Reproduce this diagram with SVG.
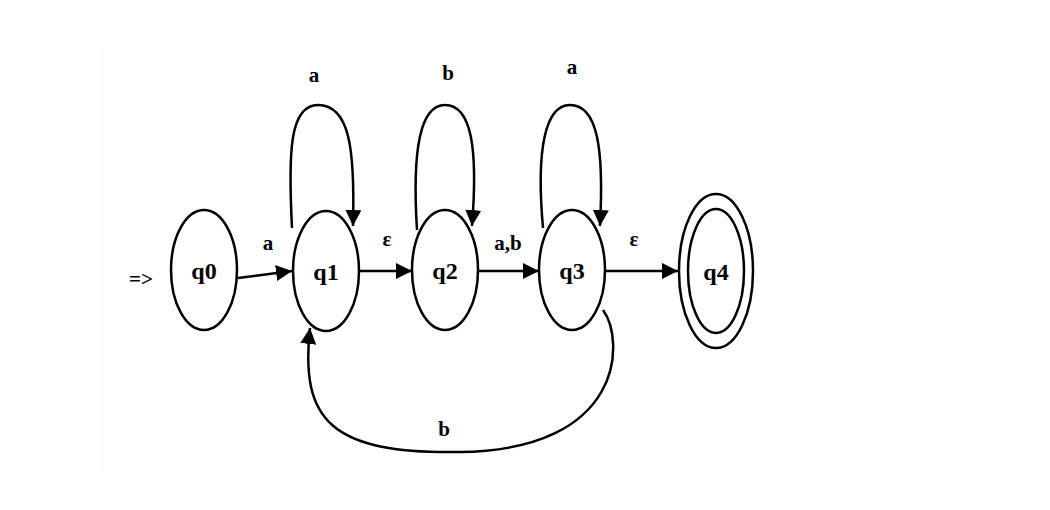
<svg xmlns="http://www.w3.org/2000/svg" width="1050" height="510" viewBox="0 0 1050 510">
<style>
.n{fill:#fff;stroke:#000;stroke-width:2.5}
.e{fill:none;stroke:#000;stroke-width:2.5}
.t{font-family:"Liberation Serif",serif;font-weight:bold;font-size:24px;fill:#000}
.l{font-family:"Liberation Serif",serif;font-weight:bold;font-size:21px;fill:#000}
</style>
<defs>
<marker id="a" viewBox="0 0 10 10" refX="10" refY="5" markerWidth="16" markerHeight="16" orient="auto" markerUnits="userSpaceOnUse"><path d="M0,0 L10,5 L0,10 z" fill="#000"/></marker></defs>
<rect x="100" y="45" width="665" height="428" fill="#fefefe"/>
<g id="edges">
<path class="e" d="M238,278 L292,271" marker-end="url(#a)"/>
<path class="e" d="M359,271 L412,271" marker-end="url(#a)"/>
<path class="e" d="M478,271 L539,271" marker-end="url(#a)"/>
<path class="e" d="M605,271 L678,271" marker-end="url(#a)"/>
<path class="e" d="M292,228 C288,150 290,105 318,105 C350,105 355,150 353,226" marker-end="url(#a)"/>
<path class="e" d="M417,230 C412,150 420,105 445,105 C472,105 478,150 472,226" marker-end="url(#a)"/>
<path class="e" d="M543,228 C536,150 545,105 570,105 C598,105 604,150 600,226" marker-end="url(#a)"/>
<path class="e" d="M603,310 C625,340 625,450 460,452 C330,454 300,420 310,328" marker-end="url(#a)"/>
</g>
<g id="q0"><ellipse class="n" cx="204" cy="270" rx="33" ry="60"/><text class="t" x="204" y="279" text-anchor="middle">q0</text></g>
<g id="q1"><ellipse class="n" cx="326" cy="271" rx="33" ry="60"/><text class="t" x="326" y="280" text-anchor="middle">q1</text></g>
<g id="q2"><ellipse class="n" cx="445" cy="270" rx="33" ry="60"/><text class="t" x="445" y="279" text-anchor="middle">q2</text></g>
<g id="q3"><ellipse class="n" cx="572" cy="270" rx="33" ry="60"/><text class="t" x="572" y="279" text-anchor="middle">q3</text></g>
<g id="q4"><ellipse class="n" cx="716" cy="271" rx="37" ry="77"/><ellipse class="n" cx="716" cy="271" rx="28" ry="62"/><text class="t" x="716" y="280" text-anchor="middle">q4</text></g>
<g id="labels">
<text class="l" x="141" y="286" text-anchor="middle">=&gt;</text>
<text class="l" x="268" y="250" text-anchor="middle">a</text>
<text class="l" x="387" y="246" text-anchor="middle" font-weight="normal">ε</text>
<text class="l" x="508" y="250" text-anchor="middle">a,b</text>
<text class="l" x="634" y="246" text-anchor="middle" font-weight="normal">ε</text>
<text class="l" x="314" y="82" text-anchor="middle">a</text>
<text class="l" x="448" y="80" text-anchor="middle">b</text>
<text class="l" x="572" y="74" text-anchor="middle">a</text>
<text class="l" x="444" y="436" text-anchor="middle">b</text>
</g>
</svg>
